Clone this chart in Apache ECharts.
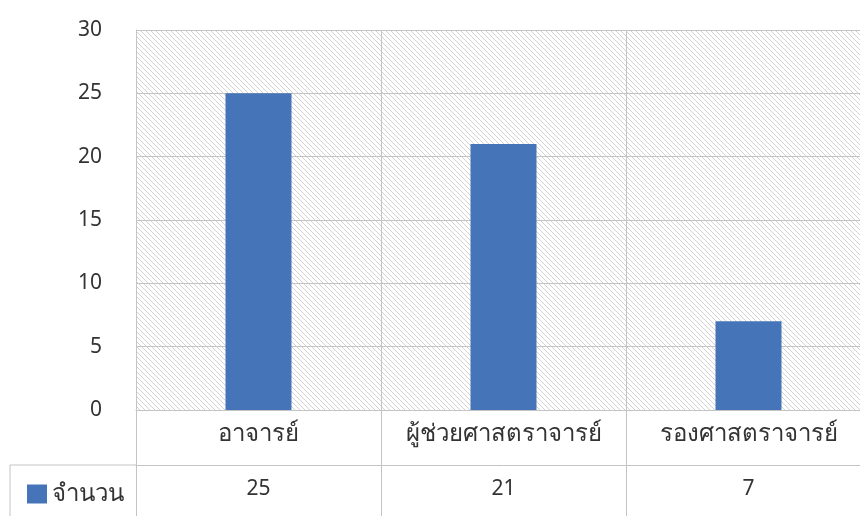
<!DOCTYPE html>
<html><head><meta charset="utf-8">
<script src="https://cdn.jsdelivr.net/npm/echarts@6/dist/echarts.min.js"></script>
<style>html,body{margin:0;padding:0;background:#fff;overflow:hidden;width:860px;height:516px}#c{width:871px;height:516px}</style>
</head><body><div id="c"></div>
<script>
var categories = ['อาจารย์', 'ผู้ช่วยศาสตราจารย์', 'รองศาสตราจารย์'];
var values = [25, 21, 7];
var seriesName = 'จำนวน';
var yTicks = [0, 5, 10, 15, 20, 25, 30];

var FONT = '"Noto Sans", "DejaVu Sans", sans-serif';
var tile = document.createElement('canvas');
tile.width = 5; tile.height = 5;
var g = tile.getContext('2d');
g.fillStyle = '#ffffff'; g.fillRect(0, 0, 5, 5);
g.strokeStyle = '#d2d2d2'; g.lineWidth = 1;
for (var k = -1; k <= 1; k++) { g.beginPath(); g.moveTo(k * 5, 0); g.lineTo(k * 5 + 5, 5); g.stroke(); }

var chart = echarts.init(document.getElementById('c'));
chart.setOption({
  animation: false,
  backgroundColor: '#ffffff',
  grid: { left: 136, top: 30, right: 0, height: 380, show: true,
    backgroundColor: { image: tile, repeat: 'repeat' }, borderWidth: 0 },
  legend: { data: [seriesName], left: 22, top: 477, icon: 'rect', itemWidth: 20, itemHeight: 19, itemGap: 8,
    textStyle: { fontSize: 24, color: '#333', fontFamily: FONT } },
  xAxis: [{
    type: 'category', data: categories, position: 'bottom',
    axisLine: { show: true, lineStyle: { color: '#c4c4c4', width: 1 } },
    axisTick: { show: true, length: 106, lineStyle: { color: '#c4c4c4' } },
    splitLine: { show: true, lineStyle: { color: '#c4c4c4' } },
    axisLabel: { fontSize: 24, color: '#333', margin: 12, fontFamily: FONT, interval: 0 }
  }, {
    type: 'category', data: values.map(String), position: 'bottom', offset: 55,
    axisLine: { show: true, lineStyle: { color: '#c4c4c4', width: 1 } },
    axisTick: { show: false },
    axisLabel: { fontSize: 21, color: '#333', margin: 14, fontFamily: FONT, interval: 0 }
  }],
  yAxis: {
    type: 'value', min: yTicks[0], max: yTicks[yTicks.length - 1], interval: 5,
    axisLine: { show: true, lineStyle: { color: '#c4c4c4' } },
    axisTick: { show: false },
    splitLine: { show: true, lineStyle: { color: '#c4c4c4' } },
    axisLabel: { fontSize: 21, color: '#333', margin: 34, fontFamily: FONT }
  },
  series: [{
    name: seriesName, type: 'bar', data: values, barWidth: 66, xAxisIndex: 0,
    itemStyle: { color: '#4674b8' }
  }],
  graphic: [
    { type: 'line', shape: { x1: 10, y1: 465, x2: 136, y2: 465 }, style: { stroke: '#c4c4c4', lineWidth: 1 } },
    { type: 'line', shape: { x1: 10, y1: 465, x2: 10, y2: 516 }, style: { stroke: '#c4c4c4', lineWidth: 1 } }
  ]
});
</script></body></html>
